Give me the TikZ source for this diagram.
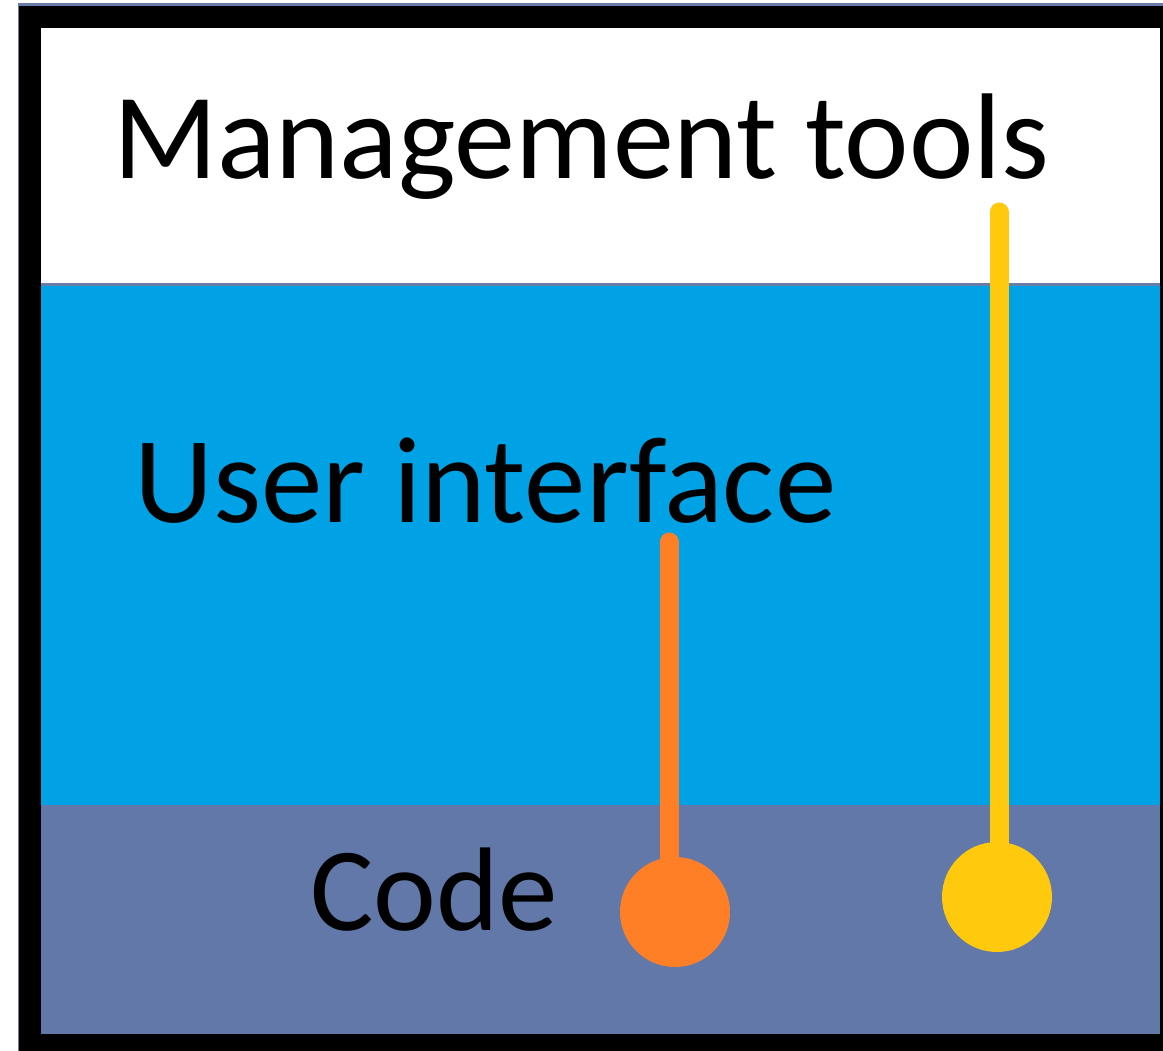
\documentclass[tikz,border=0pt]{standalone}
\usepackage{fontspec}
\setmainfont{Carlito}
\definecolor{uiblue}{HTML}{00A2E6}
\definecolor{codeblue}{HTML}{6278A8}
\definecolor{edgeblue}{HTML}{6A7DA8}
\definecolor{pinorange}{HTML}{FF7F27}
\definecolor{pinyellow}{HTML}{FFC90E}
\tikzset{
  label/.style={anchor=base west, inner sep=0pt},
  pin/.style={line width=19pt, line cap=round},
  pinhead/.style={circle, inner sep=0pt, minimum size=110pt},
}
\begin{document}
\begin{tikzpicture}[x=1pt, y=-1pt]
\useasboundingbox (0,0) rectangle (1163,1051);
\fill[white] (0,0) rectangle (1163,1051);
% thin outer edge
\fill[edgeblue] (18,3) rectangle (1163,6);
\fill[edgeblue] (18,3) rectangle (20,1051);
% black frame
\fill[black] (19,6) rectangle (1163,1051);
% bands
\fill[white] (41,28) rectangle (1160,283);
\fill[edgeblue] (41,283) rectangle (1160,286);
\fill[uiblue] (41,286) rectangle (1160,805);
\fill[codeblue] (41,805) rectangle (1160,1034);
% texts
\node[label, font=\fontsize{122}{130}\selectfont] (mgmt) at (113,179) {Management tools};
\node[label, font=\fontsize{123}{130}\selectfont] (ui) at (134,522) {User interface};
\node[label, font=\fontsize{119}{130}\selectfont] (code) at (310,930) {Code};
% pins
\coordinate (otop) at (669,542);
\coordinate (ytop) at (999,212);
\node[pinhead, fill=pinorange] (ohead) at (675,912) {};
\node[pinhead, fill=pinyellow] (yhead) at (997,897) {};
\draw[pin, pinorange] (otop) -- (otop |- ohead.center);
\draw[pin, pinyellow] (ytop) -- (ytop |- yhead.center);
\end{tikzpicture}
\end{document}
